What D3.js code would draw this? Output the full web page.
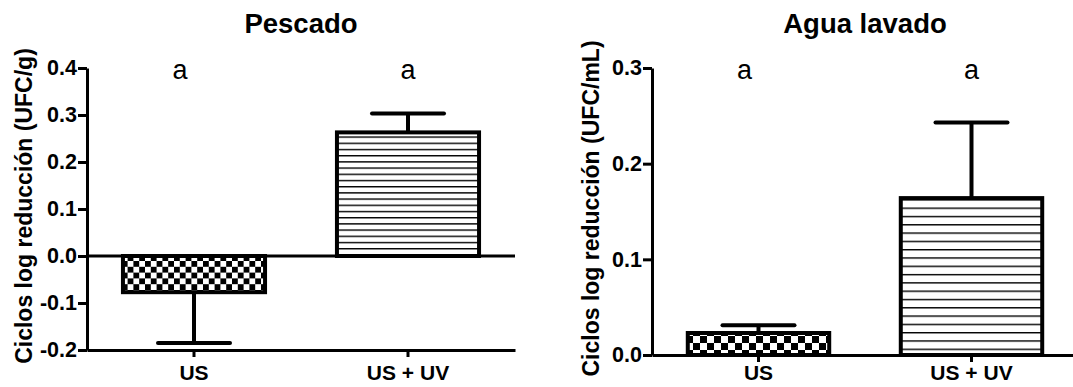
<!DOCTYPE html>
<html>
<head>
<meta charset="utf-8">
<script src="https://cdn.jsdelivr.net/npm/d3@7"></script>
<style>
  body { margin: 0; background: #fff; }
  svg { display: block; }
  text { font-family: "Liberation Sans", Arial, sans-serif; fill: #000; }
  .axis path, .axis line { stroke: #000; stroke-width: 3; }
  .axis text { font-weight: bold; }
  .axis--y text { font-size: 21.5px; }
  .axis--x text { font-size: 21px; }
</style>
</head>
<body>
<div id="chart"></div>
<script>
// --- data ---
const categories = ["US", "US + UV"];
const letters = ["a", "a"];

const pescadoMeans = [-0.077, 0.263];
const pescadoErrors = [0.108, 0.040];
const pescadoTicks = [-0.2, -0.1, 0.0, 0.1, 0.2, 0.3, 0.4];

const aguaMeans = [0.023, 0.164];
const aguaErrors = [0.008, 0.079];
const aguaTicks = [0.0, 0.1, 0.2, 0.3];

// --- panel layout ---
const panels = [
  { id: "p1", title: "Pescado", yLabel: "Ciclos log reducción (UFC/g)",
    means: pescadoMeans, errors: pescadoErrors, ticks: pescadoTicks,
    x0: 87, x1: 515, top: 68, bottom: 350, labelX: 32, xPad: 8, checker: 5.8, lineGap: 6.2 },
  { id: "p2", title: "Agua lavado", yLabel: "Ciclos log reducción (UFC/mL)",
    means: aguaMeans, errors: aguaErrors, ticks: aguaTicks,
    x0: 652, x1: 1078, top: 68, bottom: 355, labelX: 599, xPad: 3, checker: 7, lineGap: 8.3 }
];

const W = 1073, H = 387;
const svg = d3.select("#chart").append("svg")
  .attr("width", W)
  .attr("height", H);

const defs = svg.append("defs");

panels.forEach(p => {
  // patterns: checkerboard + horizontal lines
  const c = p.checker;
  const chk = defs.append("pattern")
    .attr("id", p.id + "-check")
    .attr("patternUnits", "userSpaceOnUse")
    .attr("width", 2 * c).attr("height", 2 * c);
  chk.append("rect").attr("width", 2 * c).attr("height", 2 * c).attr("fill", "#fff");
  chk.append("rect").attr("width", c).attr("height", c).attr("fill", "#000");
  chk.append("rect").attr("x", c).attr("y", c).attr("width", c).attr("height", c).attr("fill", "#000");

  const ln = defs.append("pattern")
    .attr("id", p.id + "-lines")
    .attr("patternUnits", "userSpaceOnUse")
    .attr("width", 10).attr("height", p.lineGap);
  ln.append("rect").attr("width", 10).attr("height", p.lineGap).attr("fill", "#fff");
  ln.append("rect").attr("y", 0).attr("width", 10).attr("height", 1.4).attr("fill", "#000");

  const fills = ["url(#" + p.id + "-check)", "url(#" + p.id + "-lines)"];

  // scales
  const x = d3.scaleBand()
    .domain(categories)
    .range([p.x0, p.x1])
    .paddingInner(0.336)
    .paddingOuter(0.168);

  const y = d3.scaleLinear()
    .domain(d3.extent(p.ticks))
    .range([p.bottom, p.top]);

  const g = svg.append("g").attr("id", p.id);

  // bars
  g.selectAll(".bar")
    .data(p.means)
    .enter().append("rect")
    .attr("class", "bar")
    .attr("x", (d, i) => x(categories[i]))
    .attr("width", x.bandwidth())
    .attr("y", d => y(Math.max(0, d)))
    .attr("height", d => Math.abs(y(d) - y(0)))
    .attr("fill", (d, i) => fills[i])
    .attr("stroke", "#000")
    .attr("stroke-width", 4);

  // error bars (one-sided, away from zero)
  const errEnd = (d, i) => d + Math.sign(d) * p.errors[i];
  g.selectAll(".err")
    .data(p.means)
    .enter().append("line")
    .attr("class", "err")
    .attr("x1", (d, i) => x(categories[i]) + x.bandwidth() / 2)
    .attr("x2", (d, i) => x(categories[i]) + x.bandwidth() / 2)
    .attr("y1", d => y(d))
    .attr("y2", (d, i) => y(errEnd(d, i)))
    .attr("stroke", "#000")
    .attr("stroke-width", 4);

  g.selectAll(".cap")
    .data(p.means)
    .enter().append("line")
    .attr("class", "cap")
    .attr("x1", (d, i) => x(categories[i]) + x.bandwidth() / 2 - 36)
    .attr("x2", (d, i) => x(categories[i]) + x.bandwidth() / 2 + 36)
    .attr("y1", (d, i) => y(errEnd(d, i)))
    .attr("y2", (d, i) => y(errEnd(d, i)))
    .attr("stroke", "#000")
    .attr("stroke-width", 4)
    .attr("stroke-linecap", "round");

  // zero line (only when domain crosses zero)
  if (y.domain()[0] < 0) {
    g.append("line")
      .attr("x1", p.x0).attr("x2", p.x1)
      .attr("y1", y(0)).attr("y2", y(0))
      .attr("stroke", "#000")
      .attr("stroke-width", 3);
  }

  // axes
  const yAxis = d3.axisLeft(y)
    .tickValues(p.ticks)
    .tickFormat(d => d.toFixed(1))
    .tickSize(9)
    .tickSizeOuter(0)
    .tickPadding(1);

  g.append("g")
    .attr("class", "axis axis--y")
    .attr("transform", `translate(${p.x0},0)`)
    .call(yAxis);

  const xAxis = d3.axisBottom(x)
    .tickSize(7)
    .tickSizeOuter(0)
    .tickPadding(p.xPad);

  g.append("g")
    .attr("class", "axis axis--x")
    .attr("transform", `translate(0,${p.bottom})`)
    .call(xAxis);

  // significance letters
  g.selectAll(".letter")
    .data(letters)
    .enter().append("text")
    .attr("class", "letter")
    .attr("x", (d, i) => x(categories[i]) + x.bandwidth() / 2 + (i === 0 ? -14 : 0))
    .attr("y", 79)
    .attr("text-anchor", "middle")
    .style("font-size", "27px")
    .text(d => d);

  // title
  g.append("text")
    .attr("x", (p.x0 + p.x1) / 2)
    .attr("y", 33)
    .attr("text-anchor", "middle")
    .style("font-size", "27.5px")
    .style("font-weight", "bold")
    .text(p.title);

  // y label
  g.append("text")
    .attr("transform", `translate(${p.labelX},${(p.top + p.bottom) / 2 - 3}) rotate(-90)`)
    .attr("text-anchor", "middle")
    .style("font-size", "23px")
    .style("font-weight", "bold")
    .text(p.yLabel);
});
</script>
</body>
</html>
